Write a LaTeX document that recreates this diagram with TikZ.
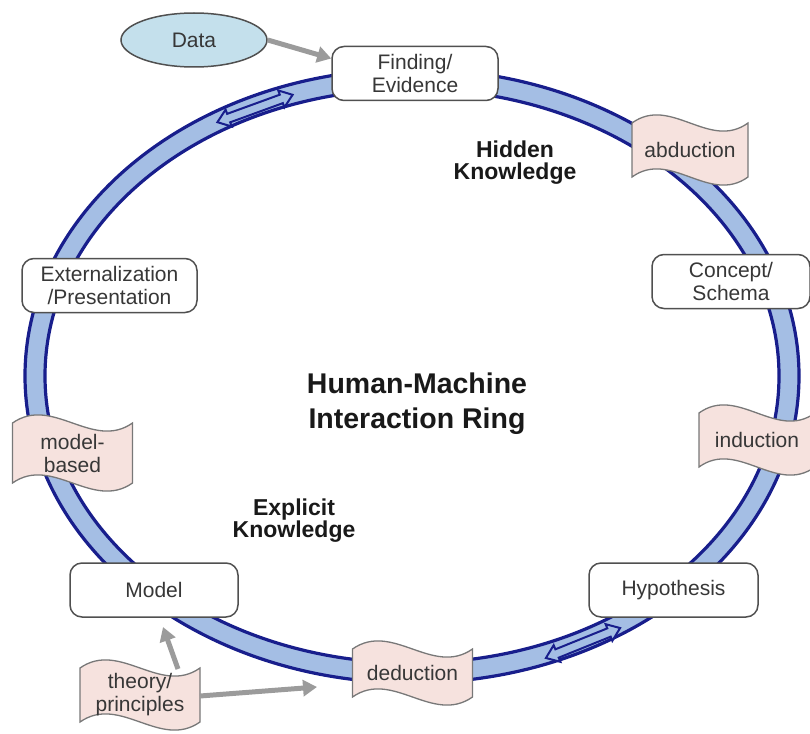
\documentclass[tikz,border=0pt]{standalone}
\usepackage{fontspec}
\setmainfont{Liberation Sans}
\usetikzlibrary{shapes.geometric,arrows.meta}

\pgfdeclarelayer{ringlayer}
\pgfdeclarelayer{flaglayer}
\pgfsetlayers{ringlayer,flaglayer,main}

\definecolor{ringfill}{RGB}{164,190,228}
\definecolor{ringline}{RGB}{24,30,140}
\definecolor{datafill}{RGB}{196,224,236}
\definecolor{flagfill}{RGB}{246,226,222}
\definecolor{flagline}{RGB}{120,120,120}
\definecolor{boxline}{RGB}{80,80,80}
\definecolor{textgray}{RGB}{55,55,55}
\definecolor{feedgray}{RGB}{155,155,155}

\newcommand\boxfont{\fontsize{21pt}{23pt}\selectfont}
\newcommand\titlefont{\fontsize{28.5pt}{35pt}\selectfont\bfseries}
\newcommand\kindfont{\fontsize{23pt}{22pt}\selectfont\bfseries}

% wavy banner behind a text node: node, half width, half height, bend
\newcommand\waveflag[4]{%
  \begin{pgfonlayer}{flaglayer}
  \path[flagshape]
    ([shift={(-#2,-#3)}]#1.center)
      .. controls ([shift={(-#2/3,-#3-#4)}]#1.center) and ([shift={(#2/3,-#3+#4)}]#1.center)
      .. ([shift={(#2,-#3)}]#1.center)
    -- ([shift={(#2,#3)}]#1.center)
      .. controls ([shift={(#2/3,#3+#4)}]#1.center) and ([shift={(-#2/3,#3-#4)}]#1.center)
      .. ([shift={(-#2,#3)}]#1.center)
    -- cycle;
  \end{pgfonlayer}}

% hollow two-headed arrow lying along the ring: centre, angle
\newcommand\swaparrow[2]{%
  \begin{scope}[shift={#1}, rotate=#2]
    \path[swapshape] (-40,0) -- (-28,-9) -- (-28,-4.5) -- (28,-4.5) -- (28,-9)
      -- (40,0) -- (28,9) -- (28,4.5) -- (-28,4.5) -- (-28,9) -- cycle;
  \end{scope}}

\tikzset{
  stage/.style={draw=boxline, line width=1.5pt, fill=white, rounded corners=12pt,
    minimum width=#1, minimum height=54pt, align=center, font=\boxfont,
    text=textgray, inner sep=0pt},
  flagtext/.style={align=center, font=\boxfont, text=textgray, inner sep=0pt},
  flagshape/.style={fill=flagfill, draw=flagline, line width=1.3pt},
  feed/.style={draw=feedgray, line width=5pt, -{Triangle[length=14pt,width=16pt]}},
  swapshape/.style={draw=ringline, fill=ringfill, line width=2pt, line join=miter},
  heading/.style={align=center, text=black!90},
}

\begin{document}
\begin{tikzpicture}[x=1pt, y=-1pt]
\useasboundingbox (0,0) rectangle (810,733);

% the ring
\begin{pgfonlayer}{ringlayer}
  \fill[ringfill, even odd rule]
    (412,376) ellipse [x radius=388, y radius=308]
    (412,376) ellipse [x radius=366, y radius=286];
  \draw[ringline, line width=3.2pt] (412,376) ellipse [x radius=387, y radius=307];
  \draw[ringline, line width=3.2pt] (412,376) ellipse [x radius=367, y radius=287];
\end{pgfonlayer}

% two-way exchange along the ring
\swaparrow{(255,108.5)}{20}
\swaparrow{(583,643)}{22}

% stages on the ring
\node[stage=166pt] (find)  at (415,73.5) {Finding/\\Evidence};
\node[stage=158pt] (conc)  at (731,281.5) {Concept/\\Schema};
\node[stage=169pt] (hyp)   at (673.5,590) {Hypothesis};
\node[stage=168pt] (model) at (154,590) {Model};
\node[stage=175pt] (ext)   at (109.5,285.5) {Externalization\\/Presentation};

% data source
\node[ellipse, draw=boxline, line width=1.5pt, fill=datafill,
      minimum width=146pt, minimum height=54pt, font=\boxfont, text=textgray]
      (data) at (194,40) {Data};

% reasoning banners
\node[flagtext] (abd)  at (690,150) {abduction};
\node[flagtext] (ind)  at (757,440) {induction};
\node[flagtext] (ded)  at (412.5,673) {deduction};
\node[flagtext] (mb)   at (72.5,453) {model-\\based};
\node[flagtext] (theo) at (140,695) {theory/\\principles};
\waveflag{abd}{58}{27}{28}
\waveflag{ind}{58}{27}{28}
\waveflag{ded}{60}{24}{28}
\waveflag{mb}{60}{30}{28}
\waveflag{theo}{60}{27}{28}

% labels
\node[heading, font=\titlefont] (ring) at (417,404) {Human-Machine\\Interaction Ring};
\node[heading, font=\kindfont] (hidden) at (515,163) {Hidden\\Knowledge};
\node[heading, font=\kindfont] (explicit) at (294,521) {Explicit\\Knowledge};

% inputs
\draw[feed] (data.east) -- ([yshift=15pt]find.west);
\draw[feed] ([shift={(38,-26)}]theo.center) -- ([shift={(9,37)}]model.center);
\coordinate (ringfoot) at (317,687);
\draw[feed] ([shift={(60,1)}]theo.center) -- (ringfoot);
\end{tikzpicture}
\end{document}
